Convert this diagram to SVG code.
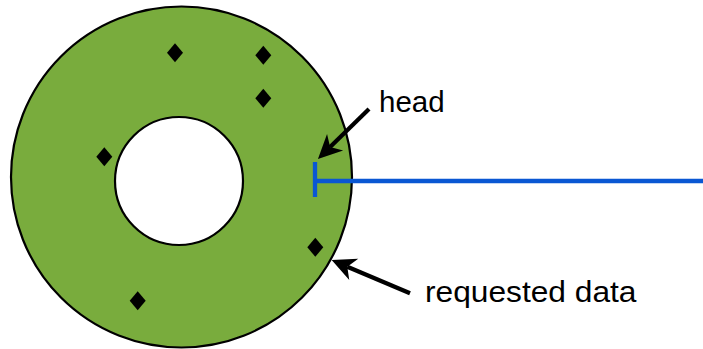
<svg xmlns="http://www.w3.org/2000/svg" width="703" height="349" viewBox="0 0 703 349">
  <style>
    .disk { fill: #79AC3D; stroke: #000; stroke-width: 2.2; }
    .hole { fill: #fff; stroke: #000; stroke-width: 2.2; }
    .block { fill: #000; }
    .arm { stroke: #0A57D3; stroke-width: 4.3; fill: none; }
    .pointer { stroke: #000; stroke-width: 4.2; fill: none; marker-end: url(#arrow); }
    .label { font-family: "Liberation Sans", Arial, Helvetica, sans-serif; font-size: 29.5px; fill: #000; }
  </style>
  <defs>
    <marker id="arrow" markerUnits="userSpaceOnUse" orient="auto" refX="7" refY="0" markerWidth="40" markerHeight="40" overflow="visible">
      <path d="M0,-11.5 L24,0 L0,11.5 L7,0 Z" fill="#000"/>
    </marker>
    <path id="diamond" d="M0,-9.5 L8,0 L0,9.5 L-8,0 Z"/>
  </defs>

  <!-- platter -->
  <g id="platter">
    <circle class="disk" cx="181.5" cy="177" r="170.5"/>
    <circle class="hole" cx="179" cy="181" r="64"/>
  </g>

  <!-- data blocks on the platter -->
  <g id="blocks" class="block">
    <use href="#diamond" x="175" y="52.7"/>
    <use href="#diamond" x="263.3" y="55.3"/>
    <use href="#diamond" x="263.3" y="98.3"/>
    <use href="#diamond" x="104.3" y="156.7"/>
    <use href="#diamond" x="315.3" y="247.3"/>
    <use href="#diamond" x="137.7" y="300.7"/>
  </g>

  <!-- read/write arm and head -->
  <g id="arm">
    <line class="arm" x1="315" y1="181" x2="703" y2="181"/>
    <line class="arm" x1="315" y1="162" x2="315" y2="197" stroke-width="4.8"/>
  </g>

  <!-- labels -->
  <g id="head-label">
    <text class="label" x="379" y="112.3">head</text>
  </g>
  <g id="data-label">
    <text class="label" x="425" y="302.3" textLength="211.5" lengthAdjust="spacingAndGlyphs">requested data</text>
  </g>

  <!-- pointer arrows -->
  <g id="connectors">
    <line class="pointer" x1="369" y1="109" x2="330.1" y2="147.1"/>
    <line class="pointer" x1="410" y1="293.3" x2="347.3" y2="266.7"/>
  </g>
</svg>
